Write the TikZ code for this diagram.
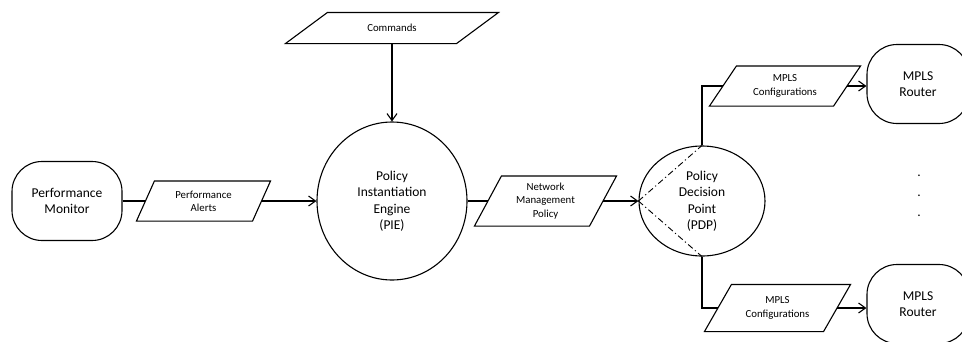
\documentclass[tikz,border=0pt]{standalone}
\usepackage{fontspec}
\setmainfont{Carlito}
\usetikzlibrary{arrows.meta,shapes.geometric}
\newcommand\parabox[7]{%
  \node[small,minimum width=#4pt,minimum height=#5pt,inner sep=0pt] (#1) at (#2,#3) {#7};
  \draw ([xshift=#6pt]#1.north west) -- (#1.north east) -- ([xshift=-#6pt]#1.south east) -- (#1.south west) -- cycle;
  \coordinate (#1-l) at ([xshift=#6pt/2]#1.west);
  \coordinate (#1-r) at ([xshift=-#6pt/2]#1.east);
}
\begin{document}
\begin{tikzpicture}[x=1pt,y=-1pt,line width=1.1pt,
  big/.style={font=\fontsize{13.5}{16.5}\selectfont,align=center},
  small/.style={font=\fontsize{10.8}{13.2}\selectfont,align=center},
  term/.style={draw,rounded corners=30pt,minimum width=110pt,minimum height=79pt,big},
  router/.style={draw,rounded corners=30pt,minimum width=102pt,minimum height=79pt,big},
  bubble/.style={draw,ellipse,inner sep=0pt,big},
  arr/.style={-{Straight Barb[length=7pt,width=10pt]}},
  dashdot/.style={line width=0.9pt,dash pattern=on 6pt off 3pt on 1.2pt off 3pt}]
\useasboundingbox (0,0) rectangle (962,341);
\clip (0,0) rectangle (962,341);
\node[term] (pm) at (67,201) {Performance\\Monitor};
\parabox{pa}{203.5}{201}{133}{39}{18}{Performance\\Alerts}
\parabox{cmd}{392}{28}{212}{30}{42}{Commands}
\node[bubble,minimum width=150pt,minimum height=158pt] (pie) at (392,201) {Policy\\Instantiation\\Engine\\(PIE)};
\parabox{nmp}{545.5}{201}{141}{49}{27}{Network\\Management\\Policy}
\node[bubble,minimum width=126pt,minimum height=110pt] (pdp) at (702,201) {Policy\\Decision\\Point\\(PDP)};
\parabox{m1}{785}{86}{150}{39}{27}{MPLS\\Configurations}
\parabox{m2}{777.5}{308}{145}{46}{27}{MPLS\\Configurations}
\node[router] (r1) at (918,84) {MPLS\\Router};
\node[router] (r2) at (918,304) {MPLS\\Router};
\node[font=\fontsize{13.5}{20}\selectfont,align=center,inner sep=0pt] (dots) at (919,196) {.\\.\\.};
\draw (pm.east) -- (pa-l);
\draw[arr] (pa-r) -- (pie.west);
\draw[arr] (cmd.south) -- (pie.north);
\draw (pie.east) -- (nmp-l);
\draw[arr] (nmp-r) -- (pdp.west);
\draw (pdp.north) |- (m1-l);
\draw[arr] (m1-r) -- (m1-r -| r1.west);
\draw (pdp.south) |- (m2-l);
\draw[arr] (m2-r) -- (m2-r -| r2.west);
\draw[dashdot] (pdp.west) -- (pdp.north);
\draw[dashdot] (pdp.west) -- (pdp.south);
\end{tikzpicture}
\end{document}
